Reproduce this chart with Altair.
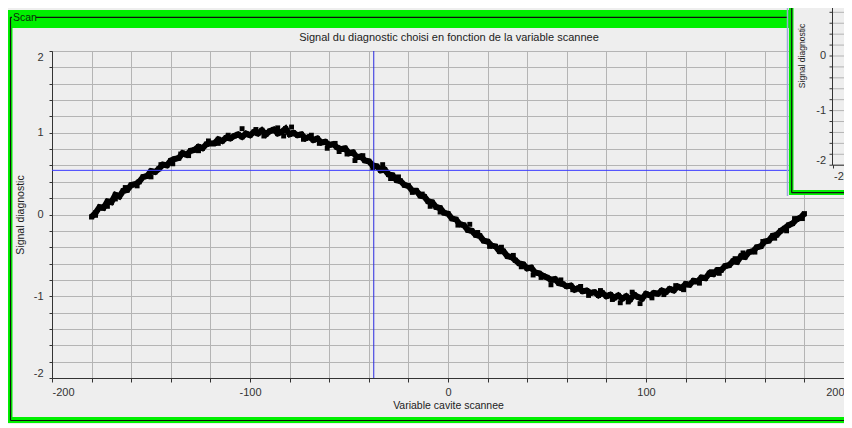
import altair as alt
import pandas as pd

# ---------------- data ----------------
x_scan = list(range(-180, 182, 2))
y_signal = [
    -0.03, 0.02, 0.09, 0.08, 0.16, 0.15, 0.24, 0.22, 0.29, 0.30,
    0.36, 0.37, 0.40, 0.46, 0.47, 0.53, 0.52, 0.56, 0.61, 0.60,
    0.66, 0.68, 0.69, 0.75, 0.73, 0.78, 0.79, 0.83, 0.81, 0.86,
    0.87, 0.87, 0.92, 0.90, 0.94, 0.93, 0.96, 0.98, 0.95, 0.99,
    0.97, 1.01, 0.99, 1.03, 0.98, 1.02, 1.04, 0.99, 1.01, 1.05,
    0.98, 1.00, 0.97, 0.98, 0.93, 0.95, 0.91, 0.93, 0.88, 0.89,
    0.85, 0.86, 0.82, 0.80, 0.81, 0.75, 0.76, 0.70, 0.71, 0.66,
    0.65, 0.60, 0.59, 0.54, 0.55, 0.49, 0.48, 0.42, 0.41, 0.36,
    0.35, 0.29, 0.29, 0.23, 0.22, 0.16, 0.15, 0.09, 0.08, 0.02,
    0.01,
    -0.05, -0.06, -0.12, -0.13, -0.19, -0.20, -0.25, -0.26, -0.32, -0.33,
    -0.38, -0.39, -0.45, -0.45, -0.51, -0.52, -0.56, -0.60, -0.61, -0.66,
    -0.65, -0.71, -0.72, -0.75, -0.77, -0.80, -0.79, -0.84, -0.85, -0.88,
    -0.87, -0.92, -0.90, -0.94, -0.93, -0.96, -0.95, -0.99, -0.96, -1.00,
    -0.98, -1.02, -0.99, -1.03, -1.00, -1.04, -0.98, -1.01, -1.03, -0.97,
    -0.99, -0.96, -0.97, -0.93, -0.95, -0.91, -0.93, -0.88, -0.90, -0.85,
    -0.86, -0.81, -0.82, -0.77, -0.78, -0.72, -0.73, -0.68, -0.68, -0.63,
    -0.62, -0.57, -0.58, -0.51, -0.52, -0.46, -0.45, -0.40, -0.39, -0.33,
    -0.32, -0.26, -0.25, -0.20, -0.17, -0.13, -0.11, -0.06, -0.04, 0.01,
]
x_extra = [-178, -172, -168, -163, -157, -150, -145, -139, -135, -131, -126,
           -121, -116, -111, -104, -97, -93, -86, -83, -79, -73, -69, -65,
           -61, -57, -55, -51, -47, -43, -38, -33, -29, -25, -18, -13, -9,
           -4, 5, 11, 15, 21, 27, 33, 37, 43, 47, 52, 57, 63, 67, 71, 77,
           83, 87, 91, 93, 97, 103, 109, 115, 119, 127, 133, 137, 145, 149,
           155, 159, 165, 171, 175, 179]
y_extra = [-0.01, 0.10, 0.19, 0.33, 0.35, 0.46, 0.61, 0.62, 0.74, 0.72, 0.78,
           0.90, 0.87, 0.97, 1.05, 1.04, 0.96, 1.06, 0.96, 1.07, 0.92, 0.97,
           0.87, 0.81, 0.87, 0.77, 0.74, 0.66, 0.72, 0.57, 0.61, 0.44, 0.46,
           0.27, 0.25, 0.10, 0.03, -0.13, -0.12, -0.22, -0.39, -0.40, -0.50,
           -0.64, -0.74, -0.77, -0.86, -0.80, -0.92, -0.88, -0.99, -0.93,
           -1.04, -1.08, -1.07, -0.95, -1.09, -1.02, -0.98, -0.87, -0.92,
           -0.84, -0.70, -0.72, -0.54, -0.47, -0.46, -0.33, -0.29, -0.20,
           -0.05, -0.05]

cursor_x = [-37.5]
cursor_y = [0.54]

x_ticks = list(range(-200, 201, 20))
y_ticks = [round(-2 + 0.2 * i, 1) for i in range(21)]

title_text = "Signal du diagnostic choisi en fonction de la variable scannee"
x_title = "Variable cavite scannee"
y_title = "Signal diagnostic"
panel_label = "Scan"

# inset (second window, partly visible at the top right)
inset_ticks = [round(1.0 - 0.2 * i, 1) for i in range(16)]
inset_labels = [1, 0, -1, -2]
inset_x_label = "-200"

FONT = "Liberation Sans"
GREEN = "#00f000"
BG = "#eeeeee"

signal = pd.DataFrame({"x": x_scan, "y": y_signal})
extra = pd.DataFrame({"x": x_extra, "y": y_extra})
one = pd.DataFrame({"a": [0]})

xs = alt.Scale(domain=[-200, 200], nice=False, zero=False)
ys = alt.Scale(domain=[-2, 2], nice=False, zero=False)

x_axis = alt.Axis(
    values=x_ticks, tickCount=200,
    labelExpr="datum.value % 100 == 0 ? '' + datum.value : ''",
    labelFlush=True, labelOverlap=False,
    grid=True, gridColor="#b4b4b4", gridWidth=1,
    tickColor="#333333", tickSize=4, domainColor="#333333",
    labelFont=FONT, labelFontSize=11, labelColor="#333333", labelPadding=4,
    title=x_title, titleFont=FONT, titleFontSize=10.5, titleFontWeight="normal",
    titleColor="#222222", titlePadding=3,
)
y_axis = alt.Axis(
    values=y_ticks, tickCount=200,
    labelExpr="abs(datum.value - round(datum.value)) < 0.001 ? '' + round(datum.value) : ''",
    labelFlush=True, labelOverlap=False,
    grid=True, gridColor="#b4b4b4", gridWidth=1,
    tickColor="#333333", tickSize=3, domainColor="#333333",
    labelFont=FONT, labelFontSize=11, labelColor="#333333", labelPadding=6,
    title=y_title, titleFont=FONT, titleFontSize=10.5, titleFontWeight="normal",
    titleColor="#222222", titlePadding=8,
)

line = alt.Chart(signal).mark_line(color="black", strokeWidth=6).encode(
    x=alt.X("x:Q", scale=xs, axis=x_axis), y=alt.Y("y:Q", scale=ys, axis=y_axis)
)
pts = alt.Chart(signal).mark_square(color="black", size=26, opacity=1).encode(
    x=alt.X("x:Q", scale=xs), y=alt.Y("y:Q", scale=ys)
)
pts2 = alt.Chart(extra).mark_square(color="black", size=24, opacity=1).encode(
    x=alt.X("x:Q", scale=xs), y=alt.Y("y:Q", scale=ys)
)
vrule = alt.Chart(pd.DataFrame({"x": cursor_x})).mark_rule(color="#2a2ae0", strokeWidth=1).encode(
    x=alt.X("x:Q", scale=xs)
)
hrule = alt.Chart(pd.DataFrame({"y": cursor_y})).mark_rule(color="#3a3aff", strokeWidth=1).encode(
    y=alt.Y("y:Q", scale=ys)
)


def rect(x1, x2, y1, y2, color):
    return alt.Chart(one).mark_rect(color=color, opacity=1).encode(
        x=alt.value(x1), x2=alt.value(x2), y=alt.value(y1), y2=alt.value(y2)
    )


def rule(x1, x2, y1, y2, color, w=1):
    return alt.Chart(one).mark_rule(color=color, strokeWidth=w).encode(
        x=alt.value(x1), x2=alt.value(x2), y=alt.value(y1), y2=alt.value(y2)
    )


def text(t, x, y, size, align="left", angle=0, color="#222222"):
    return alt.Chart(one).mark_text(
        text=t, font=FONT, fontSize=size, align=align, baseline="middle",
        angle=angle, color=color
    ).encode(x=alt.value(x), y=alt.value(y))


# frame of the "Scan" panel and chart title
frame = [
    rect(-44, 740, -41, -23, GREEN),
    rect(-44, -39.5, -41, 372, GREEN),
    rect(-44, 810, 366, 372, GREEN),
    rule(-41.5, -41.5, -33.7, 369.5, "#111111", 1.2),
    rule(-41.5, 810, 369.5, 369.5, "#111111", 1.2),
    rule(-41.5, -40, -33.7, -33.7, "#111111", 1.2),
    rule(-16, 736, -33.7, -33.7, "#111111", 1.2),
    text(panel_label, -39, -33.5, 10.5, color="#0b2a0b"),
    text(title_text, 397, -13, 11, align="center", color="#222222"),
]

# inset window
inset = [
    rule(735.5, 735.5, -60, 145, "#9aaad8", 1.5),
    rect(737, 810, -60, 144, GREEN),
    rule(739.7, 739.7, -60, 141.7, "#111111", 1.2),
    rule(739.7, 810, 141.7, 141.7, "#111111", 1.2),
    rect(741.5, 810, -60, 139, BG),
]
for v in inset_ticks:
    py = 5 - 54.6 * v
    inset.append(rule(781, 810, py, py, "#b4b4b4", 1))
    inset.append(rule(777.5, 780.5, py, py, "#333333", 1))
inset.append(rule(780.5, 780.5, -60, 114.2, "#333333", 1))
inset.append(rule(780.5, 810, 114.2, 114.2, "#333333", 1))
inset.append(rule(781.5, 781.5, 114.2, 117.5, "#333333", 1))
for v in inset_labels:
    py = 5 - 54.6 * v
    if v == -2:
        py -= 4
    if v == 1:
        py += 4
    inset.append(text(str(v), 774, py, 11, align="right", color="#333333"))
inset.append(text(y_title, 749.7, 5, 8.5, align="center", angle=270, color="#222222"))
inset.append(text(inset_x_label, 782, 126, 11, color="#333333"))

chart = alt.layer(
    line, pts, pts2, vrule, hrule, *frame, *inset
).properties(
    width=792, height=327,
    padding={"left": 44, "top": 43, "right": 0, "bottom": 46},
    autosize=alt.AutoSizeParams(type="none"),
    background=BG,
).configure_view(stroke="#333333", strokeWidth=1)

chart.save("out.html", embed_options={"renderer": "svg", "actions": False})
